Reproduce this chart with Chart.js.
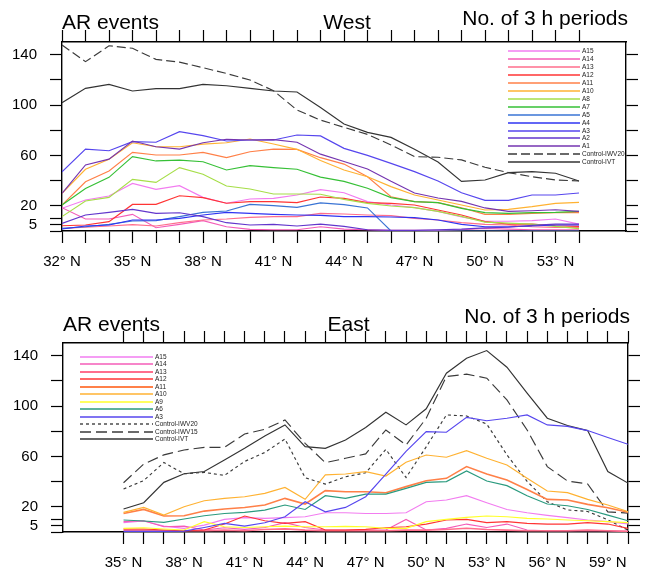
<!DOCTYPE html>
<html>
<head>
<meta charset="utf-8">
<script src="https://cdn.jsdelivr.net/npm/chart.js@4.4.1/dist/chart.umd.min.js"></script>
<style>
  body { margin: 0; background: #fff; }
  canvas { position: absolute; left: 0; }
  #west { top: 0; }
  #east { top: 290px; }
</style>
</head>
<body>
<canvas id="west" width="645" height="290"></canvas>
<canvas id="east" width="645" height="280"></canvas>
<script>
const FONT = '"Liberation Sans", Arial, Helvetica, sans-serif'

// ---- West panel (32N .. 54N)
const westLat = [32,33,34,35,36,37,38,39,40,41,42,43,44,45,46,47,48,49,50,51,52,53,54]
const westIWV20 = [147.6,134.4,147,145,136.2,134,129.6,125,119.8,111.4,96,88,82.3,76.7,68.3,59,58.5,56.4,50.6,46.3,43.1,40.5,39.7]
const westIVT = [101.8,113.2,116.4,111.1,113,113,116.4,115.3,113.2,111.1,110.3,98,84.9,78.3,74.3,64.8,54.7,39.4,40.5,46.3,47.1,45.8,39.7]
const westA1 = [29.9,52.4,57,71.4,66.9,65,70,72.8,72.2,72.5,70.4,61,55.2,49.2,39.4,30.2,26.2,23.5,18.3,15.6,16.1,16.9,15.6]
const westA2 = [6,12.7,14.8,17.2,14,14.5,11.4,6.6,4.8,5.3,4,5.4,3.7,1,0.5,0.5,1,1.5,2.5,3,4.5,5.5,5.5]
const westA3 = [47,65,63.7,70.9,70.4,78.8,75.7,71.4,72.2,72.2,76.2,75.5,65.6,60,53.7,47.1,39.7,30.4,24.3,24.3,28.6,28.6,30.2]
const westA4 = [1.6,4,4.8,8.7,8.7,10,12.7,14.8,14,13.2,12.7,12.4,11.4,11.4,11.1,10.6,8.7,5.3,3.4,3.4,4,4.8,4.8]
const westA5 = [2.1,3.4,5.3,7.9,8.2,11.4,14.8,15.9,21.1,20.1,18.7,22.3,20.9,18.3,0,0,0,0,0,0,0,0,0]
const westA7 = [20.6,33.8,42.6,59,55.6,56.3,55,48.4,51.9,50.3,49,42.8,39.4,33.9,26.5,23.3,22.5,18,14.6,14,14.6,14.8,15.6]
const westA8 = [11.4,23.8,26.7,41,38.6,50.3,45,35.7,33.3,29.4,29.4,29.2,25.1,21.9,19.8,18.5,15.6,11.6,7.1,6.3,5.5,3.7,1.9]
const westA10 = [29.9,49,56.9,70,66.9,66.9,69,70,73,69,64.8,56,48.4,43.1,35.2,28.6,24.6,20.6,16.7,17.2,19.3,21.9,22.7]
const westA11 = [20.6,39.1,47.6,62.4,60.3,60.3,62.4,58.2,62.9,65,64.8,58.2,53.1,43.1,27.2,23.3,22.5,18.5,13.2,13.2,14,14.6,14.6]
const westA12 = [4.2,4.8,7.4,21.1,21.1,28,26.5,22,23.3,23.3,22.5,27,25.9,22.5,21.9,20.6,16.7,12.7,7.4,5.5,5.5,4.2,3.7]
const westA13 = [2,3,4,5,4,6.6,8.7,9.5,10.8,11.4,11.4,14,13.5,12.7,12.2,10,8.7,6.6,5.3,4.8,3.4,2.9,2.9]
const westA14 = [18.5,9.5,9.5,13.2,2.6,5.3,8.2,3.4,1.3,1,1,3.4,1.5,1,0.5,0.5,0.5,1,2,1.5,1,1,1]
const westA15 = [18,24.6,27.8,37.8,33.1,36,26.7,22,25.4,25.9,28.6,32.8,30.4,23.3,20.6,18.5,15.6,11.1,7.7,7.7,8.2,9.5,5.5]

// ---- East panel (35N .. 60N)
const eastLat = [35,36,37,38,39,40,41,42,43,44,45,46,47,48,49,50,51,52,53,54,55,56,57,58,59,60]
const eastIVT = [18.2,23.2,39.4,46.2,48,57.2,66.4,76.2,85,67.7,66.4,73,83,95,85,97.8,126,137.9,144,130.8,110.2,90.3,84.5,80.5,48,38.8]
const eastIWV15 = [39.1,53.9,61.2,65.1,67.2,67.2,77.8,81.5,88.9,70.4,55,58.5,62,81,69,90.3,123.4,125.3,122.1,104.8,81,51.9,40.5,38.1,16,15]
const eastIWV20 = [34.1,40.8,55.1,46.2,47.3,44.9,56,63.1,73.8,43.1,38,43.8,47,65.6,43.2,67.6,92.9,92.1,85.7,61.2,40.2,24,17.5,16.3,9.7,1.5]
const eastA3 = [0.5,0.5,0.5,0.7,3.6,6.8,4.7,7.3,12.1,24,16,19.5,28,46,64,79.7,79.2,91,88.3,90.3,92.9,85,83.8,80.5,75,69.6]
const eastA6 = [9.5,8.7,7.7,10.3,12.9,14.7,15.6,17.4,21.4,17.9,28.8,26.7,30.1,30.1,34.6,39.4,40,48.4,40.5,36.8,28.8,22.2,20.8,17.9,13.4,8.9]
const eastA9 = [2.9,3.4,2.4,1.6,8.2,4.2,3.6,4.2,4.7,4.2,4.2,4.5,4.2,2.9,2.9,8.2,10,11.6,12.7,12.1,10.8,10.3,9.5,8.9,8.2,7.4]
const eastA10 = [15.6,19.5,13.4,20,24.8,26.7,28,30.7,35.4,25.9,45.3,46,47.9,44.4,55.3,61.1,59.3,64.6,58.5,53.2,42.6,32.5,31.2,25.9,21.4,16.1]
const eastA11 = [14.7,17.9,12.7,12.9,16.6,18.2,19.5,21.4,26.7,22.2,32.8,32,32,31.2,36,40.7,42.6,51.9,46,41.2,33.8,25.9,25.4,21.9,19.3,15.6]
const eastA12 = [2.4,2.4,1.6,1,1.6,6.3,12.7,8.9,6.8,8.2,1.6,1.6,2.1,3.4,4.2,6.3,9.5,10,7.4,8.2,6.8,6.3,6.3,7.4,6.3,2.9]
const eastA13 = [1.5,1.5,1,1,1,1.5,1,2,2.5,1.5,1,1,1,1,1.5,1.5,2,3,2,1.5,1,1,1,1.5,1,0.5]
const eastA14 = [8.2,8.9,4.2,4.7,1.6,3.4,2.1,3.6,7.4,3.6,1.6,1.6,1.6,1.6,10,1.6,2.9,6.3,3.6,6.3,1.6,1,1,1,1,0.5]
const eastA15 = [7.4,8.7,4.7,2.9,5.5,10,11.4,10.8,11.4,12.1,15.3,15.3,14.7,14.7,15.3,24,25.4,28.8,23.2,17.9,15.3,13.2,11.4,9.5,8.2,6.4]

// axis ticks
const yTicks = [0,5,10,20,40,60,80,100,120,140]
const yLabels = [5,20,60,100,140]
const westXTicks = [32,33,34,35,36,37,38,39,40,41,42,43,44,45,46,47,48,49,50,51,52,53,54]
const westXLabels = [32,35,38,41,44,47,50,53]
const eastXTicks = [35,36,37,38,39,40,41,42,43,44,45,46,47,48,49,50,51,52,53,54,55,56,57,58,59,60]
const eastXLabels = [35,38,41,44,47,50,53,56,59]

const colors = {
    'A1': '#7434b0', 'A2': '#6236cc', 'A3': '#5646ee', 'A4': '#2f34f2', 'A5': '#3a74d4',
    'A6': '#2a9a7e', 'A7': '#36c036', 'A8': '#a6de48', 'A9': '#ffff2a', 'A10': '#ffb232',
    'A11': '#ff8048', 'A12': '#ff3434', 'A13': '#ff6e8c', 'A14': '#f45cb8', 'A15': '#f27cf0',
    'Control-IWV20': '#3a3a3a', 'Control-IWV15': '#3a3a3a', 'Control-IVT': '#333333'
}

function series(label, lats, values, dash, width) {
    return {
        label: label,
        data: values.map((v, i) => ({ x: lats[i], y: v })),
        borderColor: colors[label],
        backgroundColor: colors[label],
        borderWidth: width || 1.15,
        borderDash: dash || [],
        pointRadius: 0,
        tension: 0,
        fill: false
    }
}

const panelTitle = {
    id: 'panelTitle',
    afterDraw(chart, args, o) {
        const ctx = chart.ctx, a = chart.chartArea
        ctx.save()
        ctx.fillStyle = '#000'
        ctx.font = '21px ' + FONT
        ctx.textBaseline = 'alphabetic'
        ctx.textAlign = 'left'
        ctx.fillText('AR events', a.left, o.y)
        ctx.textAlign = 'center'
        ctx.fillText(o.center, (a.left + a.right) / 2 + 3, o.y)
        ctx.textAlign = 'right'
        ctx.fillText('No. of 3 h periods', a.right + 2, o.yRight)
        ctx.restore()
    }
}

const panelLegend = {
    id: 'panelLegend',
    afterDatasetsDraw(chart, args, o) {
        const ctx = chart.ctx
        ctx.save()
        ctx.font = '6.5px ' + FONT
        ctx.textBaseline = 'middle'
        ctx.textAlign = 'left'
        o.order.forEach((label, i) => {
            const ds = chart.data.datasets.find(d => d.label === label)
            const y = Math.round(o.y0 + i * o.step)
            ctx.strokeStyle = ds.borderColor
            ctx.lineWidth = ds.borderWidth + 0.2
            ctx.setLineDash(ds.borderDash)
            ctx.beginPath()
            ctx.moveTo(o.x0, y)
            ctx.lineTo(o.x1, y)
            ctx.stroke()
            ctx.fillStyle = '#222'
            ctx.fillText(label, o.x1 + 2, y + 0.5)
        })
        ctx.restore()
    }
}

function makeScales(box, xMin, xMax, xTicks, xLabels) {
    const grid = { drawOnChartArea: false, drawTicks: true, tickLength: 12, color: '#000', tickColor: '#000', tickWidth: 1.2 }
    const border = { display: true, color: '#000', width: 1.4 }
    const font = { family: FONT, size: 15 }
    const xTickList = a => { a.ticks = xTicks.map(v => ({ value: v })) }
    const yTickList = a => { a.ticks = yTicks.map(v => ({ value: v })) }
    return {
        x: {
            type: 'linear', position: 'bottom', min: xMin, max: xMax,
            grid: grid, border: border, afterBuildTicks: xTickList,
            ticks: { autoSkip: false, maxRotation: 0, padding: 10, color: '#000', font: font,
                callback: v => xLabels.includes(v) ? v + '\u00b0 N' : '' },
            afterFit: s => { s.height = box.h - box.bottom }
        },
        xTop: {
            type: 'linear', position: 'top', min: xMin, max: xMax,
            grid: grid, border: border, afterBuildTicks: xTickList,
            ticks: { autoSkip: false, maxRotation: 0, callback: () => '' },
            afterFit: s => { s.height = box.top }
        },
        y: {
            type: 'linear', position: 'left', min: 0, max: 150,
            grid: grid, border: border, afterBuildTicks: yTickList,
            ticks: { autoSkip: false, padding: 13, color: '#000', font: font,
                callback: v => yLabels.includes(v) ? String(v) : '' },
            afterFit: s => { s.width = box.left }
        },
        yRight: {
            type: 'linear', position: 'right', min: 0, max: 150,
            grid: grid, border: border, afterBuildTicks: yTickList,
            ticks: { autoSkip: false, callback: () => '' },
            afterFit: s => { s.width = box.w - box.right }
        }
    }
}

function makeChart(id, box, datasets, xMin, xMax, xTicks, xLabels, title, legend) {
    return new Chart(document.getElementById(id), {
        type: 'line',
        data: { datasets: datasets },
        plugins: [panelTitle, panelLegend],
        options: {
            responsive: false,
            animation: false,
            devicePixelRatio: 1,
            layout: { padding: 0 },
            scales: makeScales(box, xMin, xMax, xTicks, xLabels),
            plugins: {
                legend: { display: false },
                tooltip: { enabled: false },
                panelTitle: title,
                panelLegend: legend
            }
        }
    })
}

const westSets = [
    series('A1', westLat, westA1), series('A2', westLat, westA2), series('A3', westLat, westA3),
    series('A4', westLat, westA4), series('A5', westLat, westA5), series('A7', westLat, westA7),
    series('A8', westLat, westA8), series('A10', westLat, westA10), series('A11', westLat, westA11),
    series('A12', westLat, westA12), series('A13', westLat, westA13), series('A14', westLat, westA14),
    series('A15', westLat, westA15),
    series('Control-IWV20', westLat, westIWV20, [9, 4]),
    series('Control-IVT', westLat, westIVT)
]

const eastSets = [
    series('A3', eastLat, eastA3), series('A6', eastLat, eastA6), series('A9', eastLat, eastA9),
    series('A10', eastLat, eastA10), series('A11', eastLat, eastA11, [], 1.6),
    series('A12', eastLat, eastA12), series('A13', eastLat, eastA13, [], 1.6),
    series('A14', eastLat, eastA14), series('A15', eastLat, eastA15),
    series('Control-IWV20', eastLat, eastIWV20, [3, 3]),
    series('Control-IWV15', eastLat, eastIWV15, [11, 5]),
    series('Control-IVT', eastLat, eastIVT)
]

makeChart('west', { w: 645, h: 290, left: 62, right: 626, top: 42, bottom: 231 },
    westSets, 32, 56, westXTicks, westXLabels,
    { center: 'West', y: 28.5, yRight: 25 },
    { order: ['A15','A14','A13','A12','A11','A10','A8','A7','A5','A4','A3','A2','A1','Control-IWV20','Control-IVT'],
      x0: 508, x1: 580, y0: 51, step: 7.95 })

makeChart('east', { w: 645, h: 280, left: 63, right: 628, top: 53, bottom: 242 },
    eastSets, 32, 60, eastXTicks, eastXLabels,
    { center: 'East', y: 40.5, yRight: 33 },
    { order: ['A15','A14','A13','A12','A11','A10','A9','A6','A3','Control-IWV20','Control-IWV15','Control-IVT'],
      x0: 80, x1: 153, y0: 66.7, step: 7.48 })
</script>
</body>
</html>
